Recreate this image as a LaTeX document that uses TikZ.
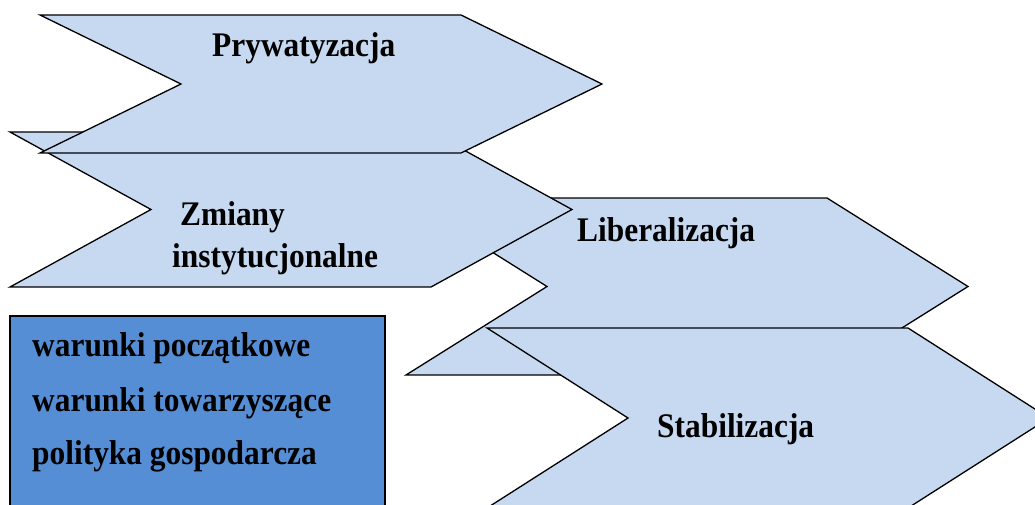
\documentclass[tikz,border=0pt]{standalone}
\usepackage{fontspec}
\setmainfont{Liberation Serif}
\newfontfamily\lblfont[FakeStretch=0.91]{Liberation Serif}
\usepackage{tikz}
\usetikzlibrary{positioning,calc}
\definecolor{chevfill}{RGB}{198,217,241}
\definecolor{boxfill}{RGB}{85,142,213}
% chevron: left, top, height
\newcommand{\chev}[3]{%
  \filldraw[chevron] (#1,#2) -- ++(421,0) -- ++(141,#3/2) -- ++(-141,#3/2)
    -- ++(-421,0) -- ++(141,-#3/2) -- cycle;}
\tikzset{
  chevron/.style={fill=chevfill, draw=black, line width=1.3pt, line join=miter},
  lbl/.style={font=\lblfont\fontsize{34.5}{40}\selectfont\bfseries, anchor=base west, inner sep=0pt},
}

\begin{document}
\begin{tikzpicture}[x=1pt,y=-1pt]
  \useasboundingbox (0,0) rectangle (1035,505);
  \clip (0,0) rectangle (1035,505);
  % chevrons, back to front
  \chev{406}{198}{177}
  \chev{10}{132}{155}
  \chev{40}{15}{138}
  \chev{487}{328}{180}
  % box
  \node[draw, fill=boxfill, line width=1.3pt, inner sep=0pt, outer sep=0pt,
        minimum width=375pt, minimum height=220pt, anchor=north west] (box) at (10,316) {};
  % labels
  \node[lbl] (pry) at (212,57) {Prywatyzacja};
  \node[lbl] (zm1) at (180,225) {Zmiany};
  \node[lbl] (zm2) at (172,267) {instytucjonalne};
  \node[lbl] (lib) at (577,241) {Liberalizacja};
  \node[lbl] (sta) at (657,437) {Stabilizacja};
  \node[lbl] (wp) at (32,356) {warunki początkowe};
  \node[lbl] (wt) at (32,411) {warunki towarzyszące};
  \node[lbl] (pg) at (32,464) {polityka gospodarcza};
\end{tikzpicture}
\end{document}
